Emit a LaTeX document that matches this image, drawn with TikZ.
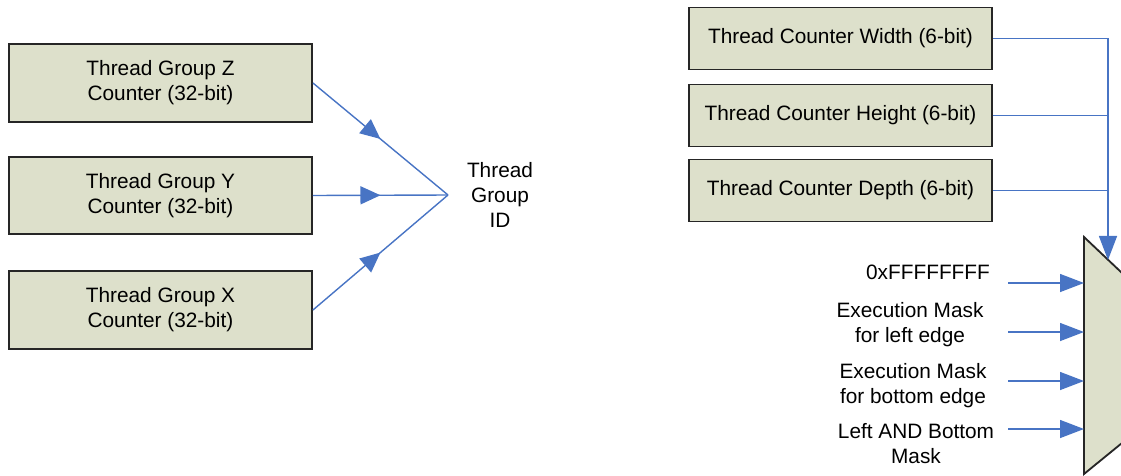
\documentclass[tikz,border=0pt]{standalone}
\usepackage{fontspec}
\setmainfont{Liberation Sans}
\usetikzlibrary{arrows.meta,positioning,decorations.markings}
\definecolor{boxfill}{RGB}{221,224,203}
\definecolor{wireblue}{RGB}{72,116,196}
\tikzset{
  cbox/.style={draw=black!85,line width=1.3pt,fill=boxfill,align=center,
    minimum width=7.575cm,inner sep=2pt},
  wire/.style={draw=wireblue,line width=1pt},
  tip/.style={-{Triangle[length=0.6cm,width=0.45cm]}},
  midarr/.style={postaction={decorate},decoration={markings,
    mark=at position 0.5 with {\arrow{Triangle[length=0.5cm,width=0.45cm]}}}},
  lbl/.style={align=center,inner sep=0pt},
}
\begin{document}
\begin{tikzpicture}[x=0.025cm,y=-0.025cm,
  font=\fontsize{14.8}{17.8}\selectfont,color=wireblue]
  \useasboundingbox (0,0) rectangle (1121,475);
  % left: thread group counters
  \node[cbox,minimum height=1.93cm,text=black] (grpz) at (160.5,83)
    {Thread Group Z\\Counter (32-bit)};
  \node[cbox,minimum height=1.93cm,text=black] (grpy) at (160.5,195.5)
    {Thread Group Y\\Counter (32-bit)};
  \node[cbox,minimum height=1.93cm,text=black] (grpx) at (160.5,310)
    {Thread Group X\\Counter (32-bit)};
  \coordinate (join) at (448,195);
  \node[lbl,text=black] (tgid) at (500,195) {Thread\\Group\\ID};
  \draw[wire,midarr] (grpz.east) -- (join);
  \draw[wire,midarr] (grpy.east) -- (join);
  \draw[wire,midarr] (grpx.east) -- (join);
  % right: thread counters and mux
  \node[cbox,minimum height=1.55cm,text=black] (cntw) at (840.5,38.5)
    {Thread Counter Width (6-bit)};
  \node[cbox,minimum height=1.55cm,text=black] (cnth) at (840.5,115.5)
    {Thread Counter Height (6-bit)};
  \node[cbox,minimum height=1.55cm,text=black] (cntd) at (840.5,190.5)
    {Thread Counter Depth (6-bit)};
  \begin{scope}
    \clip (0,0) rectangle (1121,475);
    \filldraw[fill=boxfill,draw=black!85,line width=1.3pt]
      (1084,237) -- (1160,309) -- (1160,412) -- (1084,474) -- cycle;
  \end{scope}
  \coordinate (muxtop) at (1108,260);
  \draw[wire,tip] (cntw.east) -| (muxtop);
  \draw[wire] (cnth.east) -- (cnth.east -| muxtop);
  \draw[wire] (cntd.east) -- (cntd.east -| muxtop);
  % mux inputs
  \node[lbl,text=black] (in0) at (928,272) {0xFFFFFFFF};
  \node[lbl,text=black] (in1) at (910,325) {Execution Mask\\for left edge};
  \node[lbl,text=black] (in2) at (913,386) {Execution Mask\\for bottom edge};
  \node[lbl,text=black] (in3) at (916,444) {Left AND Bottom\\Mask};
  \foreach \i/\y in {0/283,1/332,2/381,3/429}{
    \coordinate (src\i) at (1008,\y);
    \coordinate (mux\i) at (1084,\y);
    \draw[wire,tip] (src\i) -- (mux\i);
  }
\end{tikzpicture}
\end{document}
